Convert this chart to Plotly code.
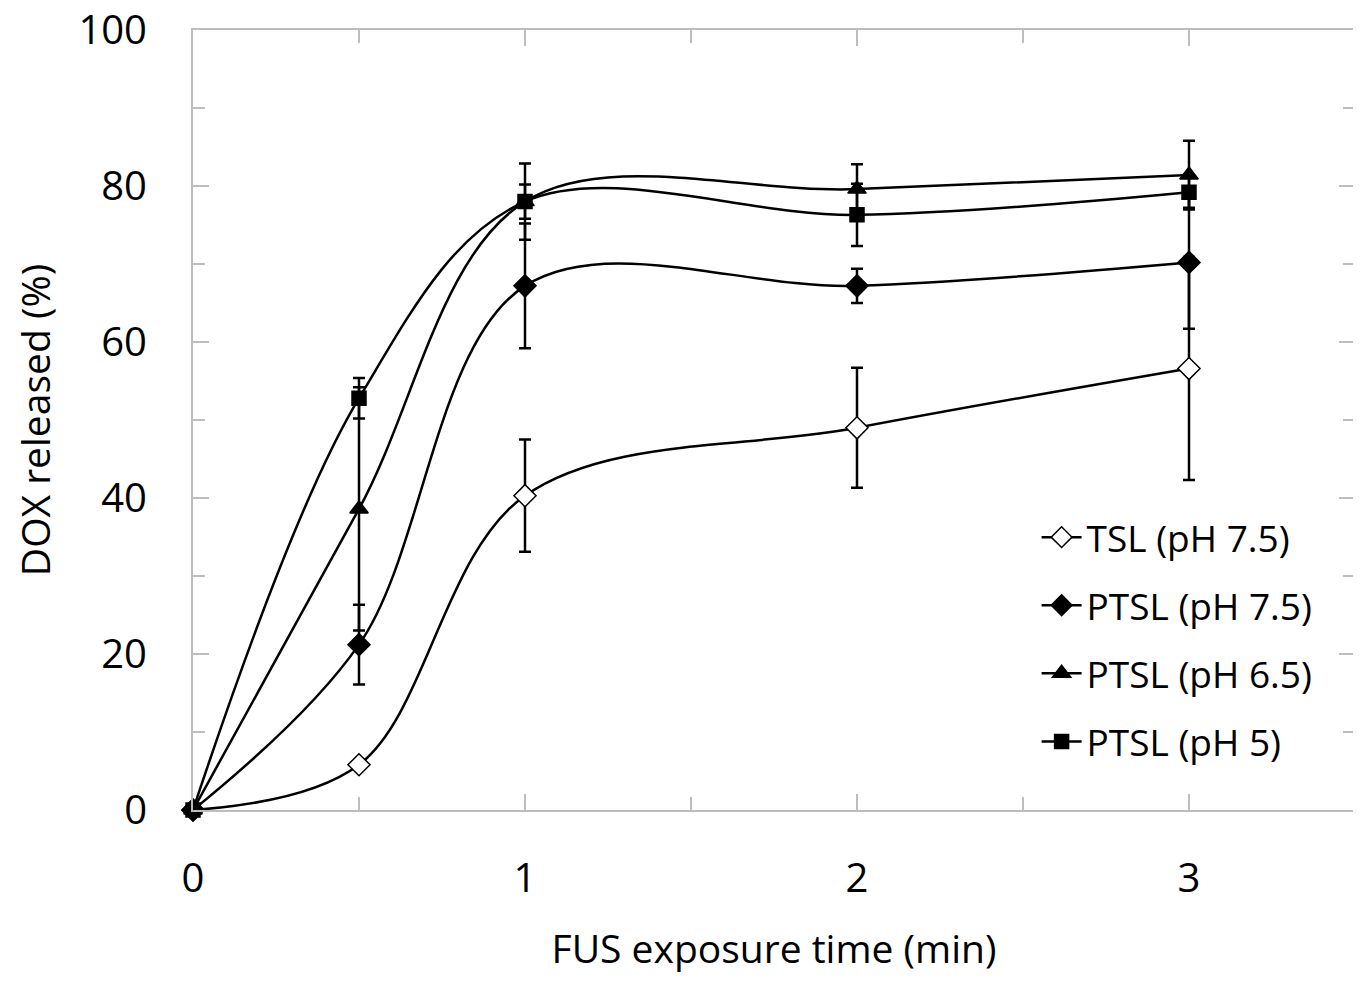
import plotly.graph_objects as go

time_min = [0, 0.5, 1, 2, 3]

tsl_75 = [0, 5.8, 40.3, 49.0, 56.6]
tsl_75_err = [0, 0, 7.2, 7.7, 14.3]

ptsl_75 = [0, 21.2, 67.2, 67.2, 70.2]
ptsl_75_err = [0, 5.1, 8.0, 2.2, 8.5]

ptsl_65 = [0, 38.6, 78.0, 79.6, 81.4]
ptsl_65_err = [0, 15.6, 4.9, 3.2, 4.4]

ptsl_5 = [0, 52.8, 78.0, 76.3, 79.2]
ptsl_5_err = [0, 2.6, 2.2, 4.0, 2.0]

series = [
    ("TSL (pH 7.5)", tsl_75, tsl_75_err, "diamond", "white", 17),
    ("PTSL (pH 7.5)", ptsl_75, ptsl_75_err, "diamond", "black", 17),
    ("PTSL (pH 6.5)", ptsl_65, ptsl_65_err, "triangle-up", "black", 16),
    ("PTSL (pH 5)", ptsl_5, ptsl_5_err, "square", "black", 14),
]

FONT = "Open Sans"
AXC = "#BDBDBD"

fig = go.Figure()
for i, (name, ys, errs, sym, fill, size) in enumerate(series):
    fig.add_trace(go.Scatter(
        x=time_min, y=ys, name=name, mode="lines+markers",
        line=dict(color="black", width=2.5, shape="spline", smoothing=1.0),
        marker=dict(symbol=sym, size=size, color=fill,
                    line=dict(color="black", width=1.5)),
        error_y=dict(type="data", array=errs, visible=True,
                     color="black", thickness=2.5, width=6),
        legendgroup=f"g{i}", cliponaxis=False,
    ))

fig.update_layout(
    width=1353, height=975,
    margin=dict(l=185, r=6, t=22, b=173, autoexpand=False),
    paper_bgcolor="white", plot_bgcolor="white",
    font=dict(family=FONT, color="black", size=40),
    showlegend=True,
    legend=dict(x=0.726, y=0.389, xanchor="left", yanchor="top",
                font=dict(family=FONT, size=37, color="black"),
                tracegroupgap=17, bgcolor="rgba(0,0,0,0)",
                itemwidth=40),
    xaxis=dict(
        range=[0, 3.5], tickmode="array", tickvals=[0, 1, 2, 3],
        ticktext=["0", "1", "2", "3"], automargin=False,
        ticks="inside", ticklen=16, tickwidth=2, tickcolor=AXC,
        minor=dict(dtick=0.5, ticks="inside", ticklen=13, tickwidth=2, tickcolor=AXC),
        showline=True, linecolor=AXC, linewidth=2, mirror="ticks",
        showgrid=False, zeroline=False,
        tickfont=dict(family=FONT, size=40, color="black"),
        ticklabelstandoff=32, ticklabeloverflow="allow",
        title=dict(text="FUS exposure time (min)", font=dict(family=FONT, size=39), standoff=33),
    ),
    yaxis=dict(
        range=[0, 100], dtick=20, automargin=False,
        ticks="inside", ticklen=16, tickwidth=2, tickcolor=AXC,
        minor=dict(dtick=10, ticks="inside", ticklen=12, tickwidth=2, tickcolor=AXC),
        showline=True, linecolor=AXC, linewidth=2, mirror="ticks",
        showgrid=False, zeroline=False,
        tickfont=dict(family=FONT, size=40, color="black"),
        ticklabelstandoff=36, ticklabeloverflow="allow",
        title=dict(text="DOX released (%)", font=dict(family=FONT, size=39), standoff=28),
    ),
)

fig.write_html("out.html")
